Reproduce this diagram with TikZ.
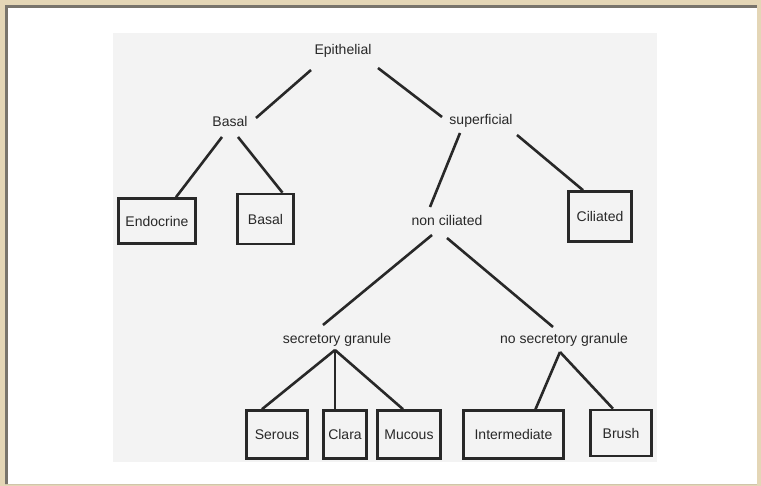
\documentclass[tikz,border=0pt]{standalone}
\usepackage{fontspec}
\setmainfont{Liberation Sans}
\usetikzlibrary{calc}
\definecolor{framebeige}{RGB}{228,214,182}
\definecolor{framedark}{RGB}{120,116,108}
\definecolor{panelgray}{RGB}{243,243,243}
\definecolor{ink}{RGB}{40,40,40}
\begin{document}
\begin{tikzpicture}[x=1pt,y=-1pt,
  lbl/.style={font=\fontsize{14}{16}\selectfont, text=ink, inner sep=2pt},
  box/.style={draw=ink, line width=2.6pt, font=\fontsize{14}{16}\selectfont, text=ink, inner sep=0pt},
  edge/.style={draw=ink, line width=2.6pt},
  thinedge/.style={draw=ink, line width=1.6pt}]
\useasboundingbox (0,0) rectangle (761,486);
\fill[framebeige] (0,0) rectangle (761,486);
\fill[white] (5,5) rectangle (757,484);
\draw[framedark, line width=3pt] (6.5,484) -- (6.5,6.5) -- (757,6.5);
\draw[framebeige!80!gray, line width=1pt] (5,484.5) -- (757,484.5);
\fill[panelgray] (113,33) rectangle (657,462);

% text nodes
\node[lbl] (epi) at (343,51) {Epithelial};
\node[lbl] (bas) at (230,121) {Basal};
\node[lbl] (sup) at (481,121) {superficial};
\node[lbl] (nonc) at (447,220) {non ciliated};
\node[lbl] (sec) at (337,340) {secretory granule};
\node[lbl] (nosec) at (564,340) {no secretory granule};

% boxes
\node[box, minimum width=77pt, minimum height=45pt] (endo) at (157,221) {Endocrine};
\node[box, minimum width=56pt, minimum height=50pt] (bbox) at (265.5,219) {Basal};
\node[box, minimum width=63pt, minimum height=50pt] (cil) at (600,216.5) {Ciliated};
\node[box, minimum width=61pt, minimum height=48pt] (ser) at (277,434.5) {Serous};
\node[box, minimum width=43pt, minimum height=48pt] (cla) at (345,434.5) {Clara};
\node[box, minimum width=63pt, minimum height=48pt] (muc) at (409,434.5) {Mucous};
\node[box, minimum width=100pt, minimum height=48pt] (int) at (513.5,434.5) {Intermediate};
\node[box, minimum width=61pt, minimum height=46pt] (bru) at (621,433) {Brush};

% connectors
\draw[edge] ($(epi)+(-32,19)$) -- ($(bas)+(26,-3)$);
\draw[edge] ($(epi)+(35,17)$) -- ($(sup)+(-39,-4)$);
\draw[edge] ($(bas)+(-8,16)$) -- ($(endo.north)+(19,0)$);
\draw[edge] ($(bas)+(8,16)$) -- ($(bbox.north)+(17,0)$);
\draw[edge] ($(sup)+(-21,12)$) -- ($(nonc)+(-17,-13)$);
\draw[edge] ($(sup)+(36,14)$) -- ($(cil.north)+(-17,0)$);
\draw[edge] ($(nonc)+(-15,15)$) -- ($(sec)+(-14,-15)$);
\draw[edge] ($(nonc)+(0,18)$) -- ($(nosec)+(-11,-13)$);
\draw[edge] ($(sec)+(-2,10)$) -- ($(ser.north)+(-15,0)$);
\draw[thinedge] ($(sec)+(-2,10)$) -- ($(cla.north)+(-10,0)$);
\draw[edge] ($(sec)+(-2,10)$) -- ($(muc.north)+(-6,0)$);
\draw[edge] ($(nosec)+(-4,12)$) -- ($(int.north)+(22,0)$);
\draw[edge] ($(nosec)+(-4,12)$) -- ($(bru.north)+(-8,0)$);
\end{tikzpicture}
\end{document}
